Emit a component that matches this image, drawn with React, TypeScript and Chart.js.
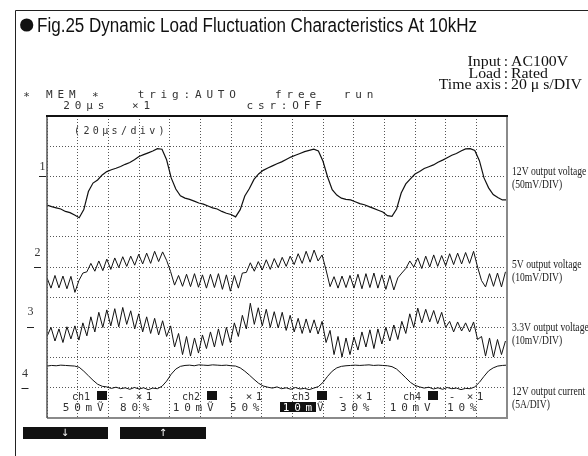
import React, { useEffect, useRef } from 'react';
import { Chart, registerables } from 'chart.js';

Chart.register(...registerables);

// ---- time axis (µs), 20 µs / division, 15 divisions ----
const TIME_MAX_US = 300;
const TIME_DIV_US = 20;
const SLOW_STEP_US = 3; // sample spacing for ch1 / ch4
const RIPPLE_STEP_US = 2.6; // sample spacing for ch2 / ch3

// vertical position in screen divisions (0 = bottom, 10 = top)
const ch1_12V: number[] = [
  7.05, 7.0, 6.96, 6.92, 6.84, 6.8, 6.72, 6.63, 6.9, 7.5,
  7.78, 7.88, 8.05, 8.16, 8.22, 8.27, 8.33, 8.4, 8.46, 8.55,
  8.66, 8.72, 8.78, 8.84, 8.92, 8.9, 8.55, 7.95, 7.58, 7.36,
  7.28, 7.24, 7.18, 7.12, 7.08, 7.02, 6.96, 6.92, 6.84, 6.78,
  6.74, 6.66, 6.9, 7.35, 7.6, 7.9, 8.08, 8.2, 8.28, 8.35,
  8.42, 8.48, 8.56, 8.64, 8.7, 8.76, 8.82, 8.86, 8.9, 8.84,
  8.5, 7.98, 7.56, 7.38, 7.28, 7.24, 7.22, 7.16, 7.1, 7.06,
  7.0, 6.94, 6.88, 6.82, 6.7, 6.68, 6.92, 7.45, 7.75, 7.92,
  8.08, 8.16, 8.26, 8.32, 8.38, 8.47, 8.54, 8.62, 8.7, 8.76,
  8.84, 8.91, 8.92, 8.86, 8.52, 7.95, 7.62, 7.4, 7.3, 7.22,
  7.22,
];

const ch2_5V: number[] = [
  4.64, 4.3, 4.72, 4.31, 4.7, 4.28, 4.69, 4.16, 4.55, 4.8,
  4.84, 5.12, 4.86, 5.2, 4.88, 5.26, 4.92, 5.3, 4.98, 5.34,
  5.02, 5.36, 5.06, 5.42, 5.1, 5.46, 5.12, 5.52, 5.18, 5.5,
  5.22, 4.85, 4.4, 4.72, 4.36, 4.76, 4.35, 4.78, 4.33, 4.74,
  4.3, 4.76, 4.32, 4.78, 4.26, 4.74, 4.2, 4.72, 4.3, 4.8,
  4.82, 5.14, 4.86, 5.18, 4.9, 5.24, 4.92, 5.28, 4.98, 5.32,
  5.02, 5.36, 5.08, 5.44, 5.12, 5.52, 5.16, 5.56, 5.2, 5.4,
  4.9, 4.35, 4.68, 4.3, 4.7, 4.32, 4.72, 4.3, 4.76, 4.28,
  4.78, 4.32, 4.8, 4.3, 4.74, 4.26, 4.72, 4.24, 4.64, 4.8,
  4.95, 5.2, 5.0, 5.3, 4.95, 5.36, 5.0, 5.4, 5.02, 5.38,
  5.04, 5.44, 5.08, 5.46, 5.1, 5.48, 5.12, 5.52, 5.0, 4.55,
  4.34, 4.78, 4.36, 4.8, 4.34, 4.84,
];

const ch3_3V3: number[] = [
  2.7, 3.0, 2.55, 2.95, 2.5, 3.02, 2.62, 3.05, 2.58, 3.15,
  2.72, 3.35, 2.85, 3.5, 3.0, 3.58, 3.05, 3.62, 3.02, 3.66,
  3.1, 3.55, 2.95, 3.45, 2.85, 3.35, 2.8, 3.3, 2.75, 3.22,
  2.7, 3.05, 2.35, 2.8, 2.1, 2.7, 2.05, 2.65, 2.15, 2.75,
  2.3, 2.85, 2.35, 2.95, 2.4, 3.0, 2.5, 3.15, 2.7, 3.4,
  2.95, 3.8, 3.1, 3.65, 3.05, 3.6, 3.0, 3.52, 2.98, 3.5,
  2.9, 3.4, 2.85, 3.3, 2.8, 3.28, 2.82, 3.25, 2.78, 3.2,
  2.5, 2.9, 2.1, 2.7, 2.02, 2.65, 2.1, 2.68, 2.25, 2.85,
  2.35, 2.92, 2.3, 2.95, 2.45, 3.0, 2.55, 3.08, 2.6, 3.2,
  2.8, 3.45, 3.0, 3.64, 3.15, 3.6, 3.18, 3.56, 3.12, 3.5,
  3.0, 3.2, 2.85, 3.18, 2.88, 3.15, 2.85, 3.18, 2.6, 2.7,
  2.05, 2.65, 2.02, 2.6, 2.1, 2.55,
];

const ch4_12A: number[] = [
  1.72, 1.74, 1.73, 1.75, 1.74, 1.73, 1.72, 1.68, 1.55, 1.4,
  1.25, 1.12, 1.05, 1.03, 0.98, 1.02, 0.97, 1.0, 0.95, 1.01,
  0.96, 1.0, 0.94, 0.99, 0.97, 1.05, 1.22, 1.45, 1.62, 1.71,
  1.74, 1.75, 1.73, 1.76, 1.75, 1.74, 1.76, 1.75, 1.74, 1.75,
  1.73, 1.72, 1.66, 1.55, 1.42, 1.28, 1.15, 1.06, 1.02, 0.99,
  1.03, 0.97, 1.0, 0.95, 1.01, 0.96, 0.98, 0.94, 0.99, 1.04,
  1.18, 1.38, 1.55, 1.66, 1.71, 1.73, 1.74, 1.75, 1.74, 1.75,
  1.76, 1.74, 1.75, 1.74, 1.73, 1.7, 1.62, 1.48, 1.33, 1.18,
  1.08, 1.03, 0.99, 1.02, 0.96, 1.0, 0.95, 1.01, 0.97, 0.99,
  0.94, 0.98, 0.97, 1.03, 1.18, 1.38, 1.56, 1.66, 1.72, 1.74,
  1.75,
];

// channel annotations
const channelNumbers = ['1', '2', '3', '4'];
const channelGroundDiv = [8, 5, 3, 1];
const channelNames = ['12V output voltage', '5V output voltage', '3.3V output voltage', '12V output current'];
const channelScales = ['(50mV/DIV)', '(10mV/DIV)', '(10mV/DIV)', '(5A/DIV)'];
const channelVolts = ['50m', '10m', '10m', '10m'];
const channelPos = ['80%', '50%', '30%', '10%'];

const TITLE = 'Fig.25 Dynamic Load Fluctuation Characteristics At 10kHz';
const INFO_LABELS = ['Input', 'Load', 'Time axis'];
const INFO_VALUES = ['AC100V', 'Rated', '20 μ s/DIV'];
const SCOPE_LINE1 = '∗ MEM ∗   trig:AUTO   free  run';
const SCOPE_LINE2 = '20μs  ×1        csr:OFF';
const SCOPE_DIV = '(20μs/div)';

const toPoints = (vals: number[], step: number) => vals.map((y, i) => ({ x: i * step, y }));

const MONO = '"DejaVu Sans Mono", monospace';

function fitText(ctx: CanvasRenderingContext2D, text: string, x: number, y: number, font: string, width: number) {
  ctx.save();
  ctx.font = font;
  const w = ctx.measureText(text).width;
  ctx.translate(x, y);
  ctx.scale(width / w, 1);
  ctx.textAlign = 'left';
  ctx.fillText(text, 0, 0);
  ctx.restore();
}

function scaledText(
  ctx: CanvasRenderingContext2D,
  text: string,
  x: number,
  y: number,
  font: string,
  sx: number,
  align: 'left' | 'right' | 'center' = 'left'
) {
  ctx.save();
  ctx.font = font;
  const w = ctx.measureText(text).width;
  ctx.translate(x, y);
  ctx.scale(sx, 1);
  ctx.textAlign = 'left';
  const off = align === 'right' ? -w : align === 'center' ? -w / 2 : 0;
  ctx.fillText(text, off, 0);
  ctx.restore();
}

function cellText(ctx: CanvasRenderingContext2D, text: string, cx0: number, y: number, cell: number) {
  ctx.textAlign = 'center';
  Array.from(text).forEach((ch, i) => {
    if (ch !== ' ') ctx.fillText(ch, cx0 + i * cell, y);
  });
}

const overlay = {
  id: 'scopeOverlay',
  afterDraw(chart: any) {
    const ctx: CanvasRenderingContext2D = chart.ctx;
    const { left: L, right: R, top: T, bottom: B } = chart.chartArea;
    const ys = chart.scales.y;
    ctx.save();

    // page frame
    ctx.strokeStyle = '#222';
    ctx.lineWidth = 1;
    ctx.beginPath();
    ctx.moveTo(15.5, 456);
    ctx.lineTo(15.5, 10.5);
    ctx.lineTo(588, 10.5);
    ctx.stroke();

    // title
    ctx.fillStyle = '#111';
    ctx.beginPath();
    ctx.arc(26.7, 25, 6.6, 0, Math.PI * 2);
    ctx.fill();
    ctx.textBaseline = 'alphabetic';
    fitText(ctx, TITLE, 37, 32, '20px "Liberation Sans", Arial, sans-serif', 440);

    // info block (aligned on the colon)
    const colonX = 506;
    const infoFont = '14px "Liberation Serif", serif';
    INFO_LABELS.forEach((lab, i) => {
      const y = 66 + i * 11.5;
      scaledText(ctx, lab, colonX - 5, y, infoFont, 1.13, 'right');
      scaledText(ctx, ':', colonX, y, infoFont, 1.13, 'center');
      scaledText(ctx, INFO_VALUES[i], colonX + 5, y, infoFont, 1.13, 'left');
    });

    // scope header
    ctx.fillStyle = '#333';
    ctx.font = `11px ${MONO}`;
    cellText(ctx, SCOPE_LINE1, 26.5, 98, 11.45);
    cellText(ctx, SCOPE_LINE2, 66.6, 109, 11.45);

    // plot frame
    ctx.lineWidth = 2;
    ctx.strokeStyle = '#8a8a8a';
    ctx.beginPath();
    ctx.moveTo(L, B);
    ctx.lineTo(R, B);
    ctx.lineTo(R, T);
    ctx.stroke();
    ctx.strokeStyle = '#555';
    ctx.lineWidth = 1.5;
    ctx.beginPath();
    ctx.moveTo(L, T);
    ctx.lineTo(L, B);
    ctx.stroke();
    ctx.strokeStyle = '#111';
    ctx.lineWidth = 2;
    ctx.beginPath();
    ctx.moveTo(L - 1, T);
    ctx.lineTo(R + 1, T);
    ctx.stroke();

    // (20µs/div)
    ctx.fillStyle = '#333';
    ctx.font = `10px ${MONO}`;
    cellText(ctx, SCOPE_DIV, 77, 134, 9.4);

    // channel numbers + ground markers on the left
    const numX = [42.5, 37.5, 30.5, 25];
    const numDy = [-10, -15, -16, -15];
    ctx.font = '12px "Liberation Serif", serif';
    ctx.textBaseline = 'middle';
    channelNumbers.forEach((n, i) => {
      const gy = Math.round(ys.getPixelForValue(channelGroundDiv[i])) + 0.5;
      ctx.fillStyle = '#333';
      ctx.textAlign = 'center';
      ctx.fillText(n, numX[i], gy + numDy[i]);
      ctx.strokeStyle = '#222';
      ctx.lineWidth = 1;
      ctx.beginPath();
      ctx.moveTo(numX[i] - 3.5, gy);
      ctx.lineTo(numX[i] + 3.5, gy);
      ctx.stroke();
    });

    // right-hand channel labels
    const nameY = [172, 265, 328, 392];
    ctx.fillStyle = '#222';
    channelNames.forEach((n, i) => {
      scaledText(ctx, n, 512, nameY[i], '12.5px "Liberation Serif", serif', 0.77);
      scaledText(ctx, channelScales[i], 512, nameY[i] + 12.5, '12.5px "Liberation Serif", serif', 0.77);
    });

    // status lines inside the plot
    ctx.textBaseline = 'alphabetic';
    const blockX = [72, 182, 292, 403];
    const lineBX = [66, 176, 286, 393];
    blockX.forEach((b, i) => {
      ctx.fillStyle = '#333';
      ctx.font = `10px ${MONO}`;
      ctx.textAlign = 'left';
      ctx.fillText('ch' + channelNumbers[i], b, 400);
      ctx.fillStyle = '#111';
      ctx.fillRect(b + 25, 391, 10, 9);
      ctx.fillStyle = '#333';
      ctx.font = `11px ${MONO}`;
      ctx.textAlign = 'center';
      ctx.fillText('-', b + 49, 400);
      ctx.fillText('×', b + 67, 400);
      ctx.fillText('1', b + 77, 400);

      const unit = i === 3 ? 'V' : 'Ṽ';
      const lx = lineBX[i];
      if (i === 2) {
        ctx.fillStyle = '#111';
        ctx.fillRect(lx - 6, 402, 36, 10);
        ctx.fillStyle = '#fff';
        cellText(ctx, channelVolts[i], lx, 410.5, 11.45);
        ctx.fillStyle = '#333';
      } else {
        cellText(ctx, channelVolts[i], lx, 410.5, 11.45);
      }
      cellText(ctx, unit + ' ' + channelPos[i], lx + 3 * 11.45, 410.5, 11.45);
    });

    // soft-key bars
    ctx.fillStyle = '#111';
    ctx.fillRect(23, 427, 85, 12);
    ctx.fillRect(120, 427, 86, 12);
    ctx.fillStyle = '#fff';
    ctx.font = '10px "DejaVu Sans", sans-serif';
    ctx.textAlign = 'center';
    ctx.textBaseline = 'middle';
    ctx.fillText('↓', 65, 433);
    ctx.fillText('↑', 163, 433);

    ctx.restore();
  },
};

export default function App() {
  const ref = useRef<HTMLCanvasElement | null>(null);
  useEffect(() => {
    if (!ref.current) return;
    const lineDs = (label: string, data: { x: number; y: number }[], width: number) => ({
      label,
      data,
      borderColor: '#111',
      borderWidth: width,
      pointRadius: 0,
      tension: 0,
      fill: false,
    });
    const chart = new Chart(ref.current, {
      type: 'line',
      data: {
        datasets: [
          lineDs(channelNames[0], toPoints(ch1_12V, SLOW_STEP_US), 1.2),
          lineDs(channelNames[1], toPoints(ch2_5V, RIPPLE_STEP_US), 1),
          lineDs(channelNames[2], toPoints(ch3_3V3, RIPPLE_STEP_US), 1),
          lineDs(channelNames[3], toPoints(ch4_12A, SLOW_STEP_US), 1),
        ],
      },
      options: {
        responsive: false,
        animation: false,
        events: [],
        layout: { padding: { left: 47, top: 116, right: 81, bottom: 38 } },
        plugins: { legend: { display: false }, tooltip: { enabled: false }, title: { display: false } },
        scales: {
          x: {
            type: 'linear',
            min: 0,
            max: TIME_MAX_US,
            ticks: { display: false, stepSize: TIME_DIV_US },
            grid: { color: '#555', lineWidth: 1, drawTicks: false },
            border: { display: false, dash: [1, 2] },
          },
          y: {
            type: 'linear',
            min: 0,
            max: 10,
            ticks: { display: false, stepSize: 1 },
            grid: { color: '#555', lineWidth: 1, drawTicks: false },
            border: { display: false, dash: [1, 2] },
          },
        },
      },
      plugins: [overlay],
    } as any);
    return () => chart.destroy();
  }, []);
  return (
    <div style={{ position: 'absolute', left: 0, top: 0, width: 588, height: 456, background: '#fff' }}>
      <canvas ref={ref} width={588} height={456} style={{ display: 'block' }} />
    </div>
  );
}
